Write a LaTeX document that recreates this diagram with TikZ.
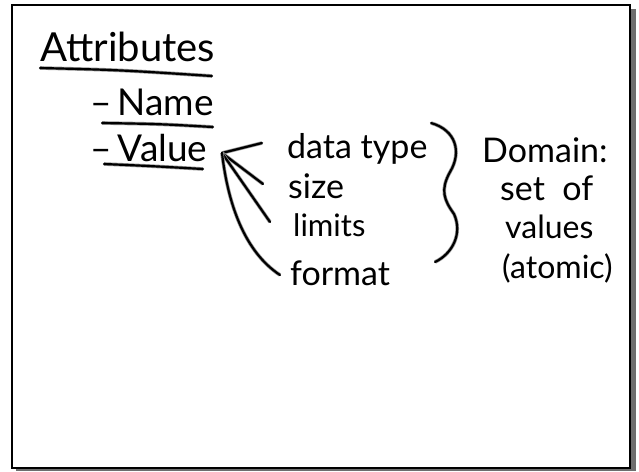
\documentclass[tikz,border=0pt]{standalone}
\usepackage{fontspec}
\setmainfont{Lato}
\usetikzlibrary{positioning}
\definecolor{inkglow}{RGB}{150,150,150}
\definecolor{boardshadow}{RGB}{110,110,110}

\begin{document}
\begin{tikzpicture}[x=1pt, y=-1pt,
    ink/.style={line width=2.2pt, line cap=round, line join=round,
        preaction={draw, inkglow, line width=3.6pt}},
    word/.style={anchor=base west, inner sep=0pt},
    big/.style={font=\fontsize{40}{42}\selectfont},
    mid/.style={font=\fontsize{37}{39}\selectfont},
    small/.style={font=\fontsize{34}{36}\selectfont}]
    \useasboundingbox (0,0) rectangle (639,471);
    % Board
    \fill[boardshadow] (16,9) rectangle (636,471);
    \draw[fill=white, line width=2pt] (12,5) rectangle (630,468);

    % Left column
    \node[word, big] (attr) at (40,61) {Attributes};
    \node[word, mid] (name) at (90,115) {–\,Name};
    \node[word, mid] (value) at (90,161) {–\,Value};
    \draw[ink] (40,68) .. controls (120,70) .. (212,76);
    \draw[ink] (102,123) .. controls (160,124) .. (213,127);
    \draw[ink] (104,164) .. controls (150,166) .. (203,169);

    % Properties of a value
    \node[word, small] (dtype) at (287,158) {data type};
    \node[word, small] (size) at (288,198) {size};
    \node[word, small, font=\fontsize{31}{33}\selectfont] (limits) at (293,236) {limits};
    \node[word, small] (format) at (290,285) {format};
    \coordinate (tip) at (222,153);
    \draw[ink] ([xshift=-25pt, yshift=15pt]dtype.base west) -- (tip);
    \draw[ink] ([xshift=-25pt, yshift=14pt]size.base west) -- (tip);
    \draw[ink] ([xshift=-23pt, yshift=14pt]limits.base west) -- (tip);
    \draw[ink] ([xshift=-10pt, yshift=10pt]format.base west)
        .. controls (245,252) and (228,205) .. (tip);

    % Brace and domain
    \draw[ink] (431,123) .. controls (456,130) and (462,152) .. (450,172)
        .. controls (440,190) and (444,200) .. (454,214)
        .. controls (463,234) and (452,254) .. (435,262);
    \node[word, small] (domain) at (482,162) {Domain:};
    \node[word, small] (setof) at (500,200) {set\ \ of};
    \node[word, small, font=\fontsize{32}{34}\selectfont] (values) at (505,238) {values};
    \node[word, small, font=\fontsize{32}{34}\selectfont] (atomic) at (502,278) {(atomic)};
\end{tikzpicture}
\end{document}
